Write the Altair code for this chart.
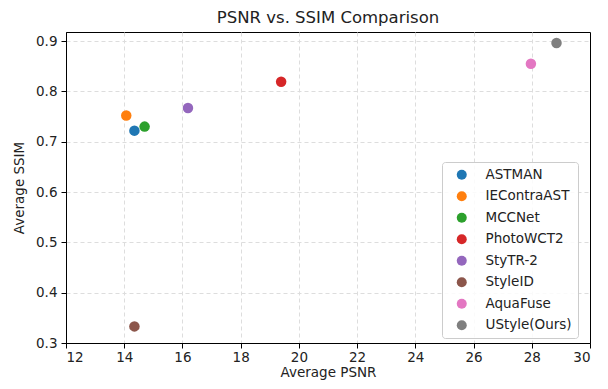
import altair as alt
import pandas as pd

methods = ["ASTMAN", "IEContraAST", "MCCNet", "PhotoWCT2", "StyTR-2", "StyleID", "AquaFuse", "UStyle(Ours)"]
psnr = [14.35, 14.07, 14.70, 19.39, 16.19, 14.35, 27.97, 28.85]
ssim = [0.722, 0.752, 0.730, 0.819, 0.767, 0.333, 0.855, 0.896]
colors = ["#1f77b4", "#ff7f0e", "#2ca02c", "#d62728", "#9467bd", "#8c564b", "#e377c2", "#7f7f7f"]
x_ticks = [12, 14, 16, 18, 20, 22, 24, 26, 28, 30]
y_ticks = [0.3, 0.4, 0.5, 0.6, 0.7, 0.8, 0.9]

df = pd.DataFrame({"Method": methods, "PSNR": psnr, "SSIM": ssim})

font = "DejaVu Sans"

chart = alt.Chart(df).mark_circle(size=110, opacity=1).encode(
    x=alt.X("PSNR:Q", title="Average PSNR",
            scale=alt.Scale(domain=[12, 30], nice=False, zero=False),
            axis=alt.Axis(values=x_ticks, format="d", labelPadding=2, titlePadding=2,
                          gridOpacity=alt.condition("datum.value == 12 || datum.value == 30",
                                                    alt.value(0), alt.value(1)))),
    y=alt.Y("SSIM:Q", title="Average SSIM",
            scale=alt.Scale(domain=[0.3, 0.918], nice=False, zero=False),
            axis=alt.Axis(values=y_ticks, format=".1f", labelPadding=4, titlePadding=9,
                          gridOpacity=alt.condition("datum.value < 0.31",
                                                    alt.value(0), alt.value(1)))),
    color=alt.Color("Method:N", sort=methods,
                    scale=alt.Scale(domain=methods, range=colors),
                    legend=alt.Legend(title=None, orient="none", legendX=376, legendY=130,
                                      symbolType="circle", symbolSize=100, symbolStrokeWidth=0,
                                      symbolOffset=7,
                                      labelFontSize=13.5, labelFont=font, labelColor="#222",
                                      labelOffset=17, rowPadding=6.5, padding=6,
                                      strokeColor="#cccccc", fillColor="rgba(255,255,255,0.85)",
                                      cornerRadius=3))
).properties(
    width=524, height=311,
    title=alt.TitleParams("PSNR vs. SSIM Comparison", fontSize=16.5, font=font,
                          fontWeight="normal", color="#222", offset=6),
    padding={"left": 58, "top": 24, "right": 10, "bottom": 38},
    autosize=alt.AutoSizeParams(type="none")
).configure_view(
    stroke="black", strokeWidth=1
).configure_axis(
    labelFont=font, titleFont=font, labelFontSize=13.5, titleFontSize=13.5,
    titleFontWeight="normal", labelColor="#222", titleColor="#222",
    domainColor="black", tickColor="black", tickSize=5,
    grid=True, gridColor="#dddddd", gridDash=[4, 3], gridWidth=1
)

chart.save("out.html", embed_options={"renderer": "svg", "actions": False})
